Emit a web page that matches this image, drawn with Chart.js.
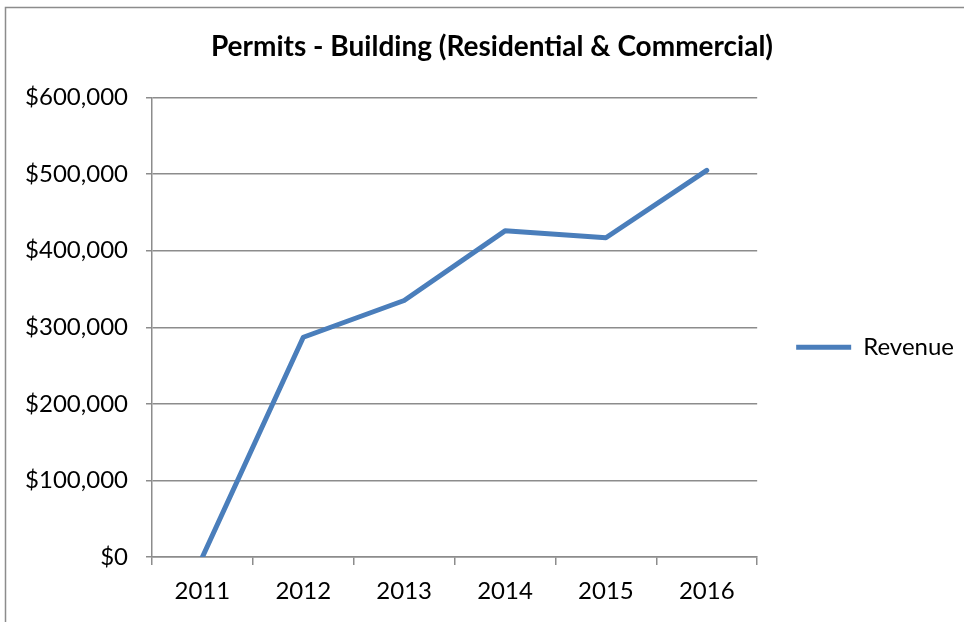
<!DOCTYPE html>
<html>
<head>
<meta charset="utf-8">
<script src="https://cdn.jsdelivr.net/npm/chart.js@4"></script>
<style>
  body { margin: 0; background: #fff; overflow: hidden; }
  #wrap { width: 964px; height: 622px; }
</style>
</head>
<body>
<div id="wrap"><canvas id="chart"></canvas></div>
<script>
var years = ['2011', '2012', '2013', '2014', '2015', '2016'];
var revenue = [0, 287000, 335000, 426000, 417000, 505000];
var yTicks = [0, 100000, 200000, 300000, 400000, 500000, 600000];

// frame line round the chart like the Excel export
var framePlugin = {
  id: 'frame',
  beforeDraw: function(chart) {
    var c = chart.ctx;
    c.save();
    c.strokeStyle = '#8c8c8c';
    c.lineWidth = 1.5;
    c.strokeRect(5.5, 7.5, 1200, 1000);
    c.restore();
  }
};

var fontFam = 'Lato, "Open Sans", sans-serif';

window.onload = function() {
  var ctx = document.getElementById('chart').getContext('2d');
  var myChart = new Chart(ctx, {
    type: 'line',
    data: {
      labels: years,
      datasets: [{
        label: 'Revenue',
        data: revenue,
        borderColor: '#4a7ebb',
        backgroundColor: '#4a7ebb',
        borderWidth: 5,
        borderCapStyle: 'round',
        borderJoinStyle: 'round',
        pointRadius: 0,
        tension: 0
      }]
    },
    options: {
      responsive: true,
      maintainAspectRatio: false,
      animation: false,
      layout: { padding: { left: 20, right: 0, top: 0, bottom: 15 } },
      plugins: {
        title: {
          display: true,
          text: 'Permits - Building (Residential & Commercial)',
          color: '#000',
          font: { family: fontFam, size: 28, weight: 'bold' },
          padding: { top: 30, bottom: 34 }
        },
        legend: {
          position: 'right',
          title: { display: true, text: ' ', font: { size: 23 }, padding: 30 },
          labels: {
            color: '#000',
            font: { family: fontFam, size: 24 },
            usePointStyle: true,
            pointStyle: 'line',
            pointStyleWidth: 55,
            boxHeight: 5,
            padding: 39
          }
        },
        tooltip: { enabled: false }
      },
      scales: {
        x: {
          offset: true,
          grid: {
            offset: true,
            drawOnChartArea: false,
            color: '#8c8c8c',
            tickLength: 8,
            lineWidth: 1.5
          },
          border: { color: '#8c8c8c', width: 1.5 },
          ticks: {
            color: '#000',
            font: { family: fontFam, size: 24 },
            padding: 12,
            maxRotation: 0
          },
          afterFit: function(s) { s.height = 50; }
        },
        y: {
          min: 0,
          max: 600000,
          afterBuildTicks: function(s) {
            s.ticks = yTicks.map(function(v) { return { value: v }; });
          },
          grid: {
            color: '#8c8c8c',
            lineWidth: 1.5,
            tickLength: 6
          },
          border: { color: '#8c8c8c', width: 1.5 },
          ticks: {
            color: '#000',
            font: { family: fontFam, size: 24 },
            padding: 18,
            callback: function(v) { return '$' + v.toLocaleString('en-US'); }
          },
          afterFit: function(s) { s.width = 132; }
        }
      }
    },
    plugins: [framePlugin]
  });
};
</script>
</body>
</html>
